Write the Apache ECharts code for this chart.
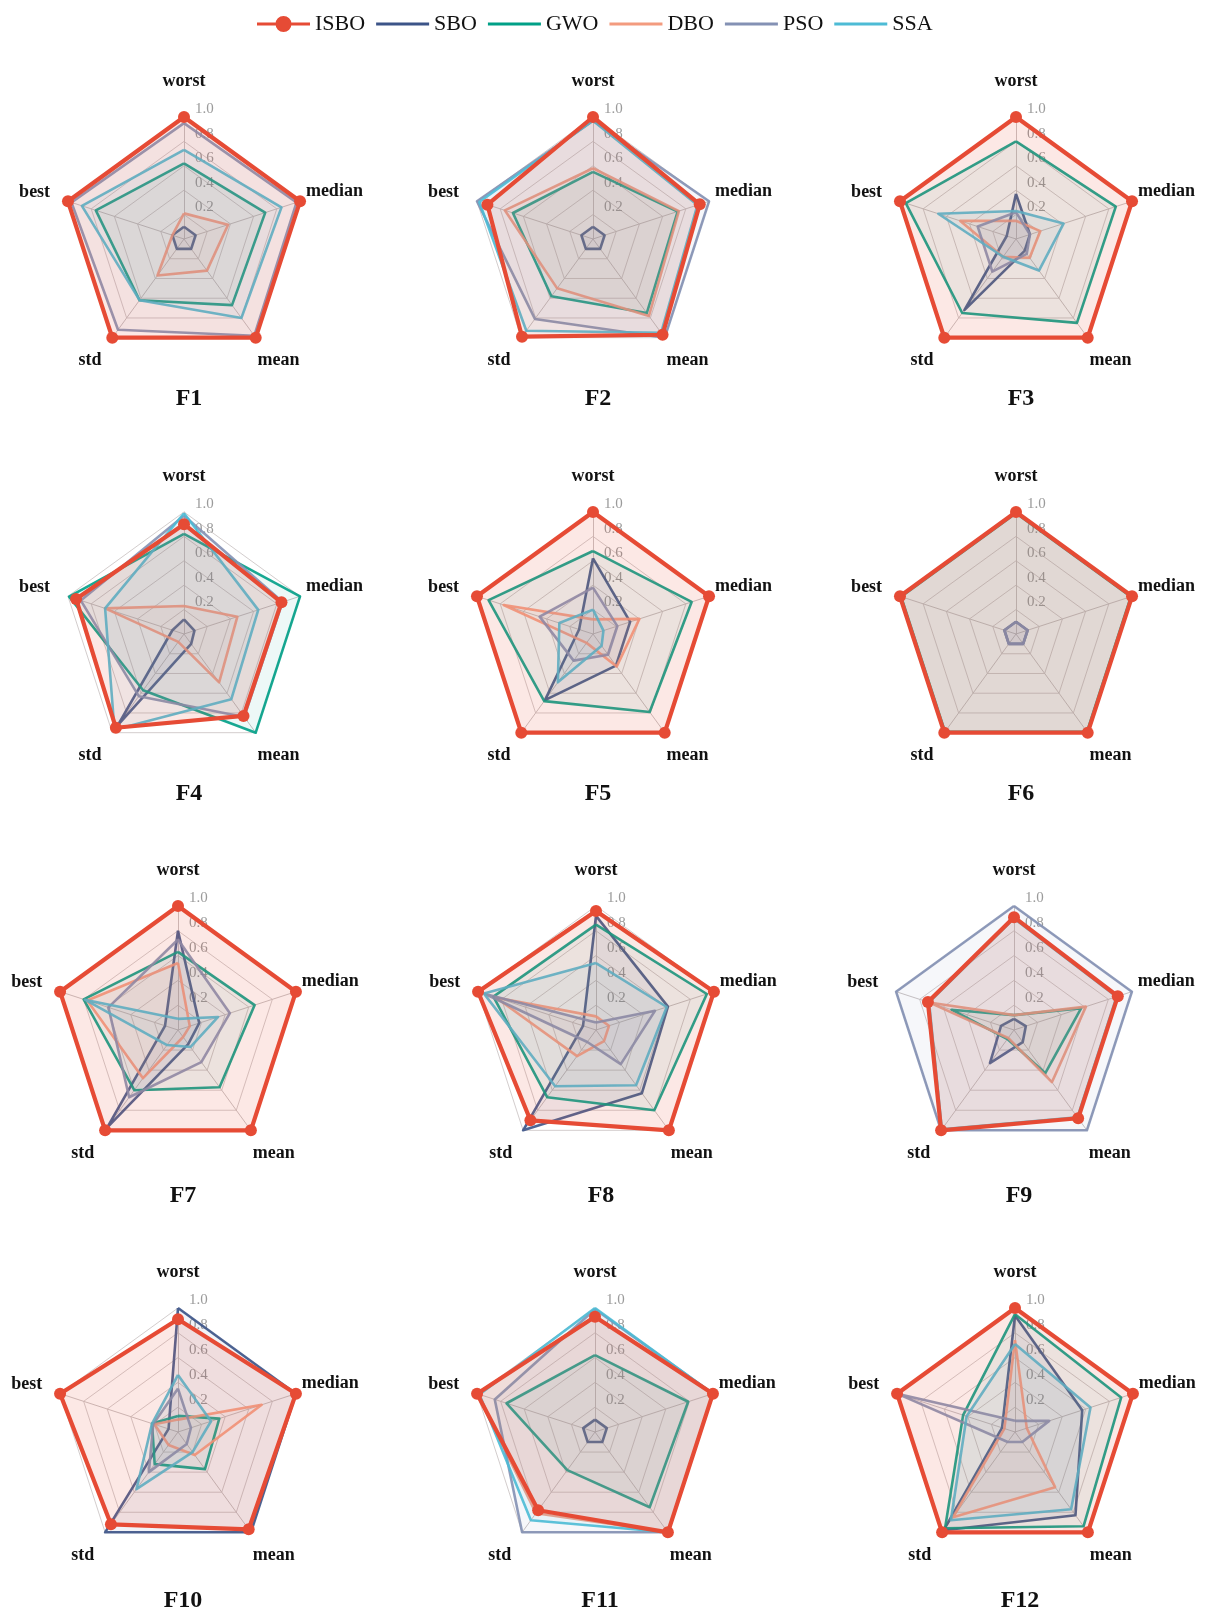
<!DOCTYPE html>
<html>
<head>
<meta charset="utf-8">
<script src="https://cdn.jsdelivr.net/npm/echarts@6/dist/echarts.min.js"></script>
<style>
  html, body { margin: 0; padding: 0; background: #ffffff; }
  #chart { width: 1208px; height: 1614px; }
</style>
</head>
<body>
<div id="chart"></div>
<script>
// Algorithms compared and their colours
const algorithms = ['ISBO', 'SBO', 'GWO', 'DBO', 'PSO', 'SSA'];
const colors = ['#E64B35', '#3C5488', '#00A087', '#F39B7F', '#8491B4', '#4DBBD5'];

// Normalised statistics, columns: worst, median, mean, std, best
const metrics = ['worst', 'median', 'mean', 'std', 'best'];
const functionNames = ['F1', 'F2', 'F3', 'F4', 'F5', 'F6', 'F7', 'F8', 'F9', 'F10', 'F11', 'F12'];

// rows: ISBO, SBO, GWO, DBO, PSO, SSA
const F1 = [
  [1.00, 1.00, 1.00, 1.00, 1.00],
  [0.10, 0.10, 0.10, 0.10, 0.10],
  [0.62, 0.70, 0.67, 0.62, 0.76],
  [0.21, 0.38, 0.32, 0.37, 0.10],
  [0.95, 0.97, 0.98, 0.92, 0.97],
  [0.73, 0.84, 0.80, 0.62, 0.88]
];
const F2 = [
  [1.00, 0.92, 0.97, 0.99, 0.91],
  [0.10, 0.10, 0.10, 0.10, 0.10],
  [0.55, 0.73, 0.75, 0.58, 0.69],
  [0.58, 0.74, 0.78, 0.50, 0.76],
  [0.97, 1.00, 1.00, 0.81, 1.00],
  [0.97, 0.90, 0.95, 0.93, 0.98]
];
const F3 = [
  [1.00, 1.00, 1.00, 1.00, 1.00],
  [0.37, 0.12, 0.12, 0.72, 0.08],
  [0.80, 0.86, 0.85, 0.75, 0.95],
  [0.15, 0.21, 0.19, 0.18, 0.48],
  [0.22, 0.12, 0.15, 0.33, 0.33],
  [0.23, 0.41, 0.32, 0.18, 0.67]
];
const F4 = [
  [0.90, 0.84, 0.83, 0.95, 0.93],
  [0.12, 0.09, 0.10, 0.92, 0.10],
  [0.82, 1.00, 1.00, 0.57, 0.99],
  [0.23, 0.46, 0.49, 0.08, 0.68],
  [0.97, 0.85, 0.84, 0.63, 0.89],
  [0.99, 0.64, 0.66, 0.97, 0.68]
];
const F5 = [
  [1.00, 1.00, 1.00, 1.00, 1.00],
  [0.62, 0.32, 0.32, 0.67, 0.12],
  [0.68, 0.85, 0.79, 0.68, 0.90],
  [0.12, 0.40, 0.33, 0.09, 0.77],
  [0.38, 0.21, 0.21, 0.27, 0.46],
  [0.20, 0.09, 0.12, 0.49, 0.29]
];
const F6 = [
  [1.00, 1.00, 1.00, 1.00, 1.00],
  [0.10, 0.10, 0.10, 0.10, 0.10],
  [0.99, 0.99, 0.99, 0.99, 0.99],
  [1.00, 1.00, 1.00, 1.00, 1.00],
  [0.10, 0.10, 0.10, 0.10, 0.10],
  [1.00, 1.00, 1.00, 1.00, 1.00]
];
const F7 = [
  [1.00, 1.00, 1.00, 1.00, 1.00],
  [0.80, 0.18, 0.14, 0.97, 0.11],
  [0.63, 0.65, 0.57, 0.60, 0.80],
  [0.54, 0.10, 0.07, 0.48, 0.77],
  [0.73, 0.44, 0.32, 0.67, 0.59],
  [0.09, 0.34, 0.17, 0.15, 0.79]
];
const F8 = [
  [0.96, 1.00, 1.00, 0.90, 1.00],
  [0.92, 0.61, 0.63, 1.00, 0.11],
  [0.85, 0.94, 0.80, 0.67, 0.87],
  [0.11, 0.11, 0.11, 0.26, 0.85],
  [0.06, 0.50, 0.34, 0.12, 0.94],
  [0.54, 0.60, 0.55, 0.56, 0.95]
];
const F9 = [
  [0.91, 0.88, 0.88, 1.00, 0.73],
  [0.09, 0.10, 0.12, 0.33, 0.11],
  [0.12, 0.57, 0.43, 0.09, 0.53],
  [0.12, 0.61, 0.52, 0.08, 0.72],
  [1.00, 1.00, 1.00, 1.00, 1.00],
  [0.90, 0.87, 0.87, 0.99, 0.72]
];
const F10 = [
  [0.91, 1.00, 0.97, 0.92, 1.00],
  [1.00, 1.00, 1.00, 1.00, 0.08],
  [0.13, 0.35, 0.37, 0.32, 0.22],
  [0.10, 0.71, 0.23, 0.13, 0.20],
  [0.35, 0.11, 0.12, 0.40, 0.21],
  [0.46, 0.28, 0.20, 0.57, 0.22]
];
const F11 = [
  [0.93, 1.00, 1.00, 0.78, 1.00],
  [0.10, 0.10, 0.10, 0.10, 0.10],
  [0.62, 0.79, 0.75, 0.38, 0.75],
  [0.93, 1.00, 1.00, 0.81, 1.00],
  [0.99, 1.00, 1.00, 1.00, 0.85],
  [1.00, 1.00, 1.00, 0.88, 0.98]
];
const F12 = [
  [1.00, 1.00, 1.00, 1.00, 1.00],
  [0.94, 0.57, 0.83, 0.98, 0.11],
  [0.95, 0.90, 0.94, 0.96, 0.44],
  [0.74, 0.10, 0.55, 0.85, 0.09],
  [0.09, 0.29, 0.10, 0.10, 1.00],
  [0.71, 0.64, 0.77, 0.88, 0.41]
];
const allData = [F1, F2, F3, F4, F5, F6, F7, F8, F9, F10, F11, F12];

// Panel placement: centre x / y and radius in px
const panelX = [184, 593, 1016, 184, 593, 1016, 178, 596, 1014, 178, 595, 1015];
const rowY = [239, 634, 1030, 1432];
const rowR = [122, 122, 124, 124];
const titleGap = [143, 143, 149, 152];

// ECharts lays radar axes out counter-clockwise from the top,
// so the axes go worst -> best -> std -> mean -> median
const axisOrder = [0, 4, 3, 2, 1];

const serif = 'Liberation Serif, Times New Roman, serif';
const nameFont = { color: '#111', fontFamily: serif, fontWeight: 'bold', fontSize: 18 };

// Per-axis spacing of the axis names around the web
const nameRich = {
  worst:  Object.assign({ padding: [0, 0, 24, 0] }, nameFont),
  median: Object.assign({ padding: [0, 0, 18, 3] }, nameFont),
  mean:   Object.assign({ padding: [41, 0, 0, 0] }, nameFont),
  std:    Object.assign({ padding: [41, 9, 0, 0] }, nameFont),
  best:   Object.assign({ padding: [0, 15, 16, 0] }, nameFont)
};

const chart = echarts.init(document.getElementById('chart'), null, { renderer: 'canvas' });

const radars = [];
const series = [];
const titles = [];
// ISBO last so that its thick outline sits on top
const drawOrder = [1, 2, 3, 4, 5, 0];

allData.forEach((rows, i) => {
  const row = Math.floor(i / 3);
  const cx = panelX[i], cy = rowY[row], r = rowR[row];
  radars.push({
    center: [cx, cy],
    radius: r,
    startAngle: 90,
    shape: 'polygon',
    splitNumber: 5,
    indicator: axisOrder.map((m, k) => ({
      name: metrics[m], min: 0, max: 1,
      axisLabel: { show: k === 0 }
    })),
    nameGap: 3,
    axisName: Object.assign({
      formatter: name => '{' + name + '|' + name + '}',
      rich: nameRich
    }, nameFont),
    axisLine: { lineStyle: { color: '#c9c3c3', width: 1 } },
    splitLine: { lineStyle: { color: '#d3cdcd', width: 1 } },
    splitArea: { show: false },
    axisTick: { show: false },
    axisLabel: {
      show: false, color: '#9b9b9b', fontFamily: serif, fontSize: 15,
      margin: -11, align: 'left', verticalAlign: 'bottom',
      formatter: v => (v === 0 ? '' : v.toFixed(1))
    }
  });
  series.push({
    type: 'radar',
    radarIndex: i,
    silent: true,
    data: drawOrder.map(a => ({
      name: algorithms[a],
      value: axisOrder.map(m => rows[a][m]),
      symbol: a === 0 ? 'circle' : 'none',
      symbolSize: 12,
      itemStyle: { color: colors[a] },
      lineStyle: { color: colors[a], width: a === 0 ? 4.2 : 2.6, opacity: a === 0 ? 1 : 0.9 },
      areaStyle: { color: colors[a], opacity: a === 0 ? 0.13 : 0.07 }
    }))
  });
  titles.push({
    text: functionNames[i],
    left: cx,
    top: cy + titleGap[row],
    textAlign: 'center',
    textStyle: { fontFamily: serif, fontWeight: 'bold', fontSize: 24, color: '#111' }
  });
});

const lineIcon = 'path://M0,0 H53 V3 H0 Z';
const dotIcon = 'path://M0,6.5 H53 V9.5 H0 Z M34.5,8 A8,8 0 1 1 18.5,8 A8,8 0 1 1 34.5,8 Z';

chart.setOption({
  animation: false,
  backgroundColor: '#ffffff',
  title: titles,
  legend: {
    left: 252,
    top: 8,
    itemWidth: 53,
    itemHeight: 16,
    itemGap: 11,
    selectedMode: false,
    textStyle: { fontFamily: serif, fontSize: 22, color: '#111' },
    data: algorithms.map((a, k) => ({ name: a, icon: k === 0 ? dotIcon : lineIcon }))
  },
  radar: radars,
  series: series
});
</script>
</body>
</html>
